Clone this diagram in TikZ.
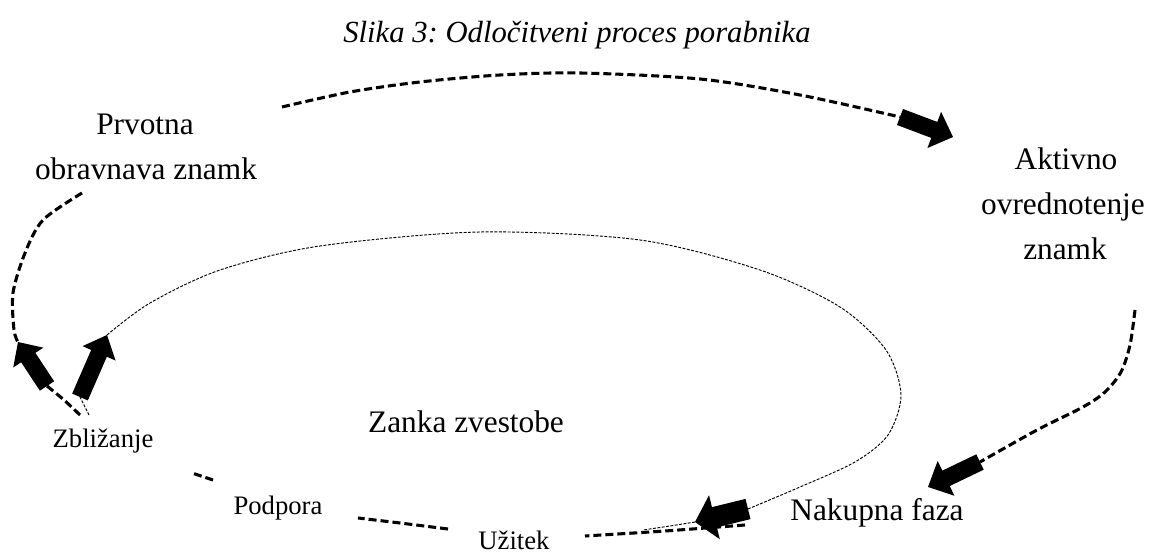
\documentclass[tikz,border=0pt]{standalone}
\usepackage{fontspec}
\setmainfont{Liberation Serif}
\usetikzlibrary{calc}
% block arrow: tail, tip, half shaft width, half head width, head length
\newcommand\blkarr[5]{%
  \coordinate (bh) at ($(#2)!#5!(#1)$);
  \fill ($(#1)!#3!90:(#2)$) -- ($(bh)!#3!90:(#2)$) -- ($(bh)!#4!90:(#2)$) -- (#2)
        -- ($(bh)!#4!-90:(#2)$) -- ($(bh)!#3!-90:(#2)$) -- ($(#1)!#3!-90:(#2)$) -- cycle;}
\begin{document}
\frenchspacing
\begin{tikzpicture}[x=0.75pt,y=-0.75pt,
  lbl/.style={font=\fontsize{23.5}{28}\selectfont, anchor=base, inner sep=0pt},
  sml/.style={font=\fontsize{20}{24}\selectfont, anchor=base, inner sep=0pt},
  ttl/.style={font=\fontsize{23}{28}\selectfont\itshape, anchor=base, inner sep=0pt},
  outerline/.style={line width=2.3pt, dash pattern=on 6pt off 3pt},
  innerline/.style={line width=0.7pt, dash pattern=on 2.2pt off 1.1pt},
]
\useasboundingbox (0,0) rectangle (1157,555);

% texts
\node[ttl] (title) at (577,43) {Slika 3: Odločitveni proces porabnika};
\node[lbl] (prv1) at (145,135) {Prvotna};
\node[lbl] (prv2) at (146,180) {obravnava znamk};
\node[lbl] (akt1) at (1066,170) {Aktivno};
\node[lbl] (akt2) at (1063,215) {ovrednotenje};
\node[lbl] (akt3) at (1065,260) {znamk};
\node[lbl] (zanka) at (466,433) {Zanka zvestobe};
\node[lbl] (nak) at (877,521) {Nakupna faza};
\node[sml] (zbl) at (103,448) {Zbližanje};
\node[sml] (pod) at (278,515) {Podpora};
\node[sml] (uzi) at (514,550) {Užitek};

% coordinates
\coordinate (c1s) at (282,107);
\coordinate (a1t) at (900,117);
\coordinate (a1h) at (953,137);
\coordinate (c2s) at (1135,310);
\coordinate (a2t) at (980,462);
\coordinate (a2h) at (928,487);
\coordinate (c3s) at (745,525);
\coordinate (c3e) at (585,536);
\coordinate (c4s) at (448,529);
\coordinate (c4e) at (358,518);
\coordinate (c5s) at (213,480);
\coordinate (c5e) at (192,473);
\coordinate (c6s) at (80,415);
\coordinate (a4t) at (47,386);
\coordinate (a4h) at (18,342);
\coordinate (c7s) at (82,193);
\coordinate (i0) at (89,415);
\coordinate (a5t) at (80,397);
\coordinate (a5h) at (107,335);
\coordinate (a3t) at (748,509);
\coordinate (a3h) at (695,522);
\coordinate (i9) at (643,530);

% outer loop (thick dashed)
\draw[outerline] plot[smooth] coordinates {(c1s) (350,92) (420,82) (500,75) (580,73) (700,79) (800,95) (a1t)};
\draw[outerline] plot[smooth] coordinates {(c2s) (1130,345) (1121,372) (1105,392) (1083,407) (1037,430) (a2t)};
\draw[outerline] plot[smooth] coordinates {(c3s) (665,531) (c3e)};
\draw[outerline] plot[smooth] coordinates {(c4s) (400,523) (c4e)};
\draw[outerline] (c5s) -- (c5e);
\draw[outerline] plot[smooth] coordinates {(c6s) (64,400) (a4t)};
\draw[outerline] plot[smooth] coordinates {(c7s) (43,220) (25,253) (13,293) (14,330) (a4h)};

% inner loop (thin dashed)
\draw[innerline] (i0) -- (a5t);
\draw[innerline] plot[smooth] coordinates {(a5h) (150,303) (220,270) (320,246) (480,232) (640,240) (760,270) (840,307) (886,350) (901,395) (888,435) (855,462) (800,487) (a3t)};
\draw[innerline] plot[smooth] coordinates {(a3h) (670,526) (i9)};

% block arrows
\blkarr{a1t}{a1h}{6.4pt}{14.5pt}{15pt}
\blkarr{a2t}{a2h}{6.4pt}{14.5pt}{15pt}
\blkarr{a3t}{a3h}{7.8pt}{17pt}{15pt}
\blkarr{a4t}{a4h}{6.4pt}{13.5pt}{14pt}
\blkarr{a5t}{a5h}{6.4pt}{13.5pt}{15pt}
\end{tikzpicture}
\end{document}
